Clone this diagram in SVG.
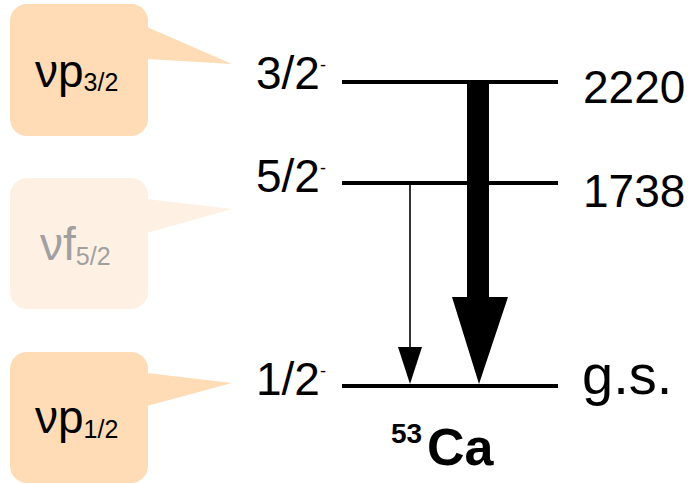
<svg xmlns="http://www.w3.org/2000/svg" width="700" height="483" viewBox="0 0 700 483">
<style>
text{font-family:"Liberation Sans",Arial,sans-serif;fill:#000}
.lvl{stroke:#000;stroke-width:4;fill:none}
.big{font-size:46px}
.sub{font-size:25px}
.lab{font-size:46px}
.co{fill:#FFDCB6}
.co2{fill:#FEF1E4}
.gray{fill:#A0A0A0}
</style>
<rect width="700" height="483" fill="#fff"/>
<g id="callout-p32">
<rect class="co" x="10" y="4" width="138" height="132" rx="17"/>
<polygon class="co" points="147,27 232,64 147,59"/>
<text x="35" y="87" class="big">νp<tspan class="sub" dy="4">3/2</tspan></text>
</g>
<g id="callout-f52">
<rect class="co2" x="10" y="178" width="138" height="131" rx="17"/>
<polygon class="co2" points="147,199 232,209 147,233"/>
<text x="40" y="260" class="big gray">νf<tspan class="sub gray" dy="5">5/2</tspan></text>
</g>
<g id="callout-p12">
<rect class="co" x="10" y="352" width="138" height="131" rx="17"/>
<polygon class="co" points="147,373 232,383 147,406"/>
<text x="35" y="433" class="big">νp<tspan class="sub" dy="5">1/2</tspan></text>
</g>
<g id="level-2220">
<line class="lvl" x1="342" y1="82" x2="558" y2="82"/>
<text x="256" y="89" class="lab">3/2<tspan font-size="18" dy="-18">-</tspan></text>
<text x="583" y="103" class="lab">2220</text>
</g>
<g id="level-1738">
<line class="lvl" x1="342" y1="183" x2="558" y2="183"/>
<text x="256" y="192" class="lab">5/2<tspan font-size="18" dy="-18">-</tspan></text>
<text x="583" y="207" class="lab">1738</text>
</g>
<g id="level-gs">
<line class="lvl" x1="342" y1="386" x2="558" y2="386"/>
<text x="256" y="395" class="lab">1/2<tspan font-size="18" dy="-18">-</tspan></text>
<text x="582" y="394" font-size="56">g.s.</text>
</g>
<g id="nucleus">
<text x="391" y="443" font-weight="bold" font-size="28">53</text>
<text x="427" y="465" font-weight="bold" font-size="52">Ca</text>
</g>
<g id="connectors">
<polygon points="467,82 489,82 489,297 508,297 479,384 452,297 467,297" fill="#000"/>
<line x1="410" y1="183" x2="410" y2="350" stroke="#000" stroke-width="1.6"/>
<polygon points="398,347 422,347 410,384" fill="#000"/>
</g>
</svg>
